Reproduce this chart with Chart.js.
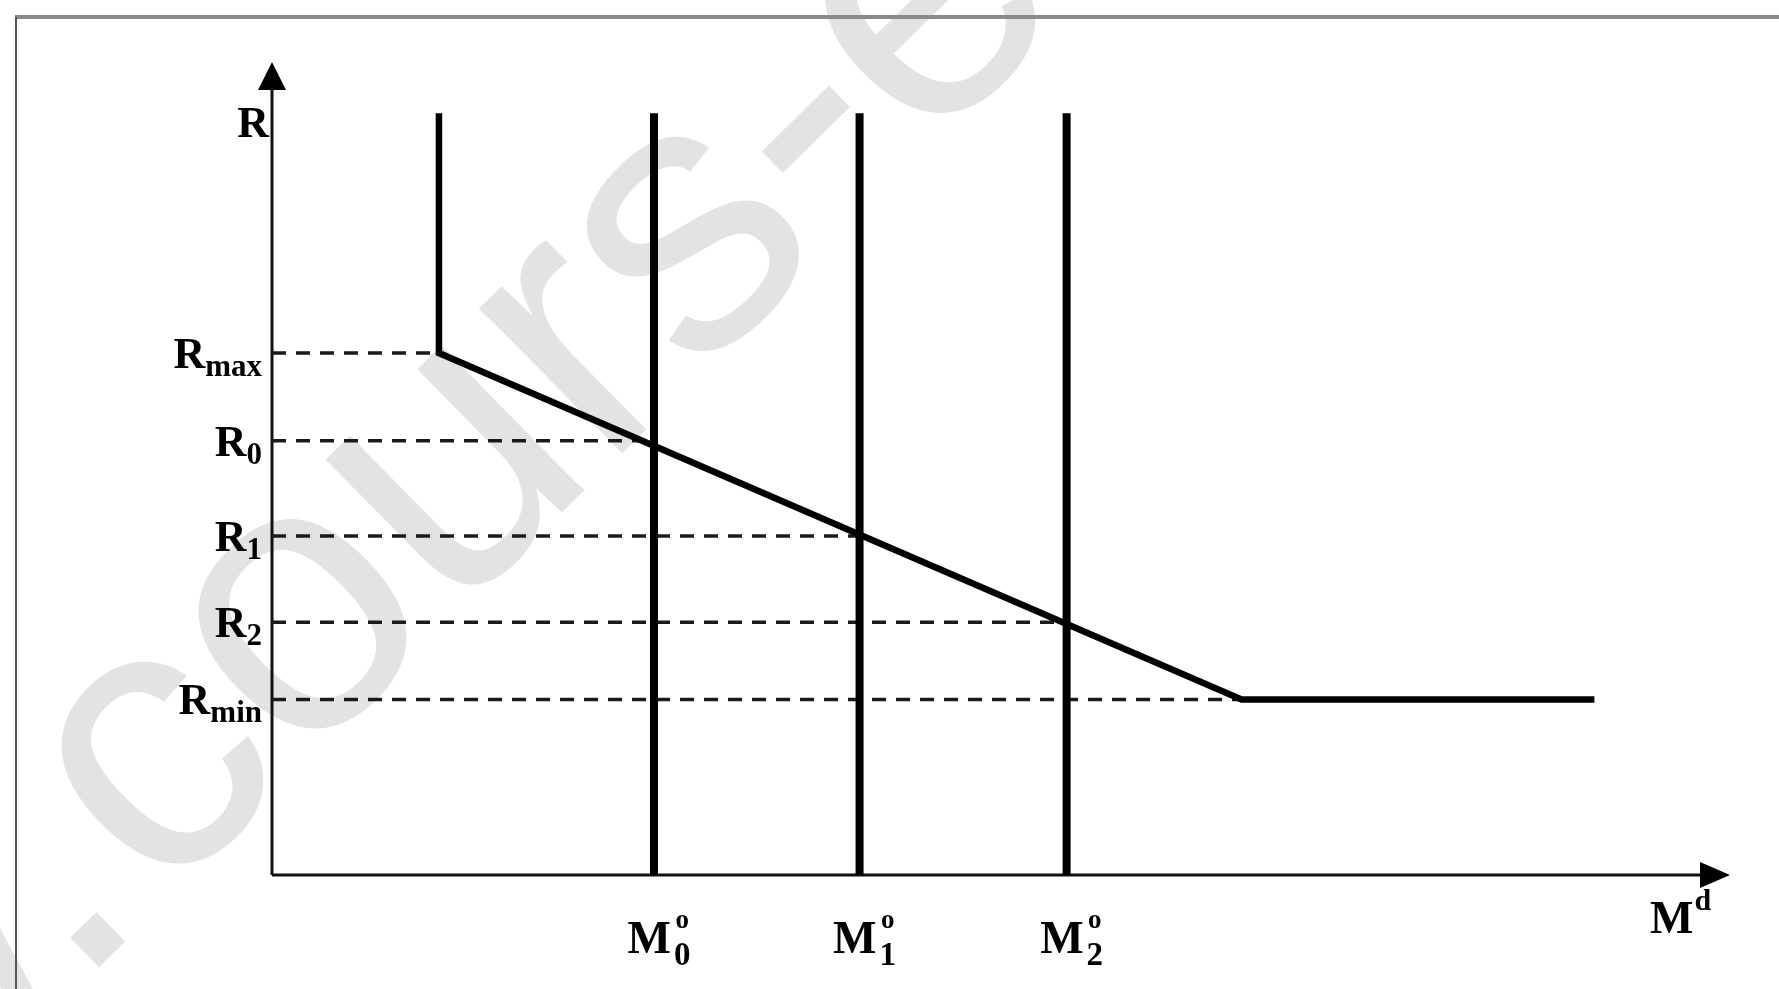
<!DOCTYPE html>
<html><head><meta charset="utf-8">
<script src="https://cdn.jsdelivr.net/npm/chart.js@4"></script>
<style>html,body{margin:0;padding:0;background:#fff;overflow:hidden}canvas{display:block}</style>
</head><body>
<canvas id="c" width="1779" height="989"></canvas>
<script>
// ---- data (abstract units: x 0..100 = money, y 0..100 = interest rate) ----
const supplySubs   = ['0', '1', '2'];          // M°0, M°1, M°2
const supplyX      = [26.2, 40.3, 54.5];
const supplyTop    = 93.7;
const rateSubs     = ['max', '0', '1', '2', 'min'];
const rateValues   = [64.2, 53.4, 41.7, 31.1, 21.6];
const rateReachX   = [11.45, 26.2, 40.3, 54.5, 66.5];
const demandX      = [11.45, 11.45, 66.5, 90.7];
const demandY      = [93.7, 64.2, 21.6, 21.6];
const yAxisTitle   = 'R';
const xAxisTitle   = ['M', 'd'];
const watermarkPre = 'www.';
const watermark    = 'cours-economie.com';

const SERIF = '"Liberation Serif", "Times New Roman", serif';

const datasets = [];
// dashed guide lines
rateValues.forEach((r, i) => {
  datasets.push({
    data: [{x: 0, y: r}, {x: rateReachX[i], y: r}],
    showLine: true, borderColor: '#1a1a1a', borderWidth: 3.5, borderDash: [14, 10],
    pointRadius: 0, clip: false, order: 3
  });
});
// money supply verticals
supplyX.forEach(x => {
  datasets.push({
    data: [{x: x, y: 0}, {x: x, y: supplyTop}],
    showLine: true, borderColor: '#000', borderWidth: 8,
    pointRadius: 0, clip: false, order: 1
  });
});
// money demand
datasets.push({
  data: demandX.map((x, i) => ({x: x, y: demandY[i]})),
  showLine: true, borderColor: '#000', borderWidth: 6.5, borderJoinStyle: 'miter',
  pointRadius: 0, clip: false, order: 2
});

const decor = {
  id: 'decor',
  beforeDraw(chart) {
    const ctx = chart.ctx;
    ctx.save();
    ctx.fillStyle = '#fff';
    ctx.fillRect(0, 0, chart.width, chart.height);
    // watermark
    ctx.translate(84, 982);
    ctx.rotate(-44.5 * Math.PI / 180);
    ctx.font = '385px "Liberation Sans", Arial, sans-serif';
    ctx.fillStyle = '#e3e3e3';
    ctx.textBaseline = 'alphabetic';
    const dotW = ctx.measureText('.').width;
    ctx.fillText(watermarkPre, dotW - ctx.measureText(watermarkPre).width - 14, 0);
    ctx.fillText(watermark, dotW, 0);
    ctx.restore();
    // frame
    ctx.save();
    ctx.strokeStyle = '#8a8a8a';
    ctx.lineWidth = 4;
    ctx.beginPath(); ctx.moveTo(15, 17); ctx.lineTo(chart.width, 17); ctx.stroke();
    ctx.strokeStyle = '#555';
    ctx.lineWidth = 2;
    ctx.beginPath(); ctx.moveTo(16, 17); ctx.lineTo(16, chart.height); ctx.stroke();
    ctx.restore();
  },
  beforeDatasetsDraw(chart) {
    const ctx = chart.ctx, xs = chart.scales.x, ys = chart.scales.y;
    const x0 = xs.getPixelForValue(0), y0 = ys.getPixelForValue(0);
    const xe = xs.getPixelForValue(xs.max), ye = ys.getPixelForValue(ys.max);
    ctx.save();
    ctx.strokeStyle = '#111'; ctx.fillStyle = '#000'; ctx.lineWidth = 3;
    ctx.beginPath(); ctx.moveTo(x0, y0); ctx.lineTo(x0, ye + 20); ctx.stroke();
    ctx.beginPath(); ctx.moveTo(x0, y0); ctx.lineTo(xe - 20, y0); ctx.stroke();
    // arrowheads
    ctx.beginPath(); ctx.moveTo(x0, ye); ctx.lineTo(x0 - 14, ye + 28); ctx.lineTo(x0 + 14, ye + 28); ctx.closePath(); ctx.fill();
    ctx.beginPath(); ctx.moveTo(xe, y0); ctx.lineTo(xe - 30, y0 - 13); ctx.lineTo(xe - 30, y0 + 13); ctx.closePath(); ctx.fill();
    ctx.restore();
  },
  afterDraw(chart) {
    const ctx = chart.ctx, xs = chart.scales.x, ys = chart.scales.y;
    const x0 = xs.getPixelForValue(0), y0 = ys.getPixelForValue(0);
    const xe = xs.getPixelForValue(xs.max), ye = ys.getPixelForValue(ys.max);
    ctx.save();
    ctx.fillStyle = '#000';
    ctx.textBaseline = 'alphabetic';
    ctx.textAlign = 'left';
    // y axis title
    ctx.font = 'bold 44px ' + SERIF;
    const wR = ctx.measureText(yAxisTitle).width;
    ctx.fillText(yAxisTitle, x0 - 3 - wR, ye + 75);
    // rate labels
    rateValues.forEach((r, i) => {
      const y = ys.getPixelForValue(r) + 15;
      ctx.font = 'bold 44px ' + SERIF;
      const wMain = ctx.measureText('R').width;
      ctx.font = 'bold 31px ' + SERIF;
      const wSub = ctx.measureText(rateSubs[i]).width;
      const xs0 = x0 - 10 - wMain - wSub;
      ctx.font = 'bold 44px ' + SERIF;
      ctx.fillText('R', xs0, y);
      ctx.font = 'bold 31px ' + SERIF;
      ctx.fillText(rateSubs[i], xs0 + wMain, y + 8);
    });
    // money supply labels
    supplyX.forEach((mx, i) => {
      const px = xs.getPixelForValue(mx);
      const base = y0 + 78;
      ctx.font = 'bold 46px ' + SERIF;
      const wM = ctx.measureText('M').width;
      ctx.font = 'bold 27px ' + SERIF;
      const wSup = ctx.measureText('o').width;
      ctx.font = 'bold 33px ' + SERIF;
      const wSub = ctx.measureText(supplySubs[i]).width;
      const stack = Math.max(wSup, wSub);
      const total = wM + stack + 3;
      const left = px + 5 - total / 2;
      ctx.font = 'bold 46px ' + SERIF;
      ctx.fillText('M', left, base);
      ctx.font = 'bold 27px ' + SERIF;
      ctx.fillText('o', left + wM + 3 + (stack - wSup) / 2, base - 25);
      ctx.font = 'bold 33px ' + SERIF;
      ctx.fillText(supplySubs[i], left + wM + 3 + (stack - wSub) / 2, base + 12);
    });
    // x axis title
    ctx.font = 'bold 46px ' + SERIF;
    const wM2 = ctx.measureText(xAxisTitle[0]).width;
    ctx.fillText(xAxisTitle[0], xe - 80, y0 + 58);
    ctx.font = 'bold 30px ' + SERIF;
    ctx.fillText(xAxisTitle[1], xe - 80 + wM2 + 1, y0 + 35);
    ctx.restore();
  }
};

new Chart(document.getElementById('c'), {
  type: 'scatter',
  data: { datasets },
  options: {
    responsive: false,
    animation: false,
    devicePixelRatio: 1,
    layout: { padding: { left: 272, right: 49, top: 62, bottom: 114 } },
    plugins: { legend: { display: false }, tooltip: { enabled: false } },
    elements: { line: { tension: 0, borderCapStyle: 'butt' } },
    scales: {
      x: { type: 'linear', min: 0, max: 100, display: false },
      y: { type: 'linear', min: 0, max: 100, display: false }
    }
  },
  plugins: [decor]
});
</script>
</body></html>
